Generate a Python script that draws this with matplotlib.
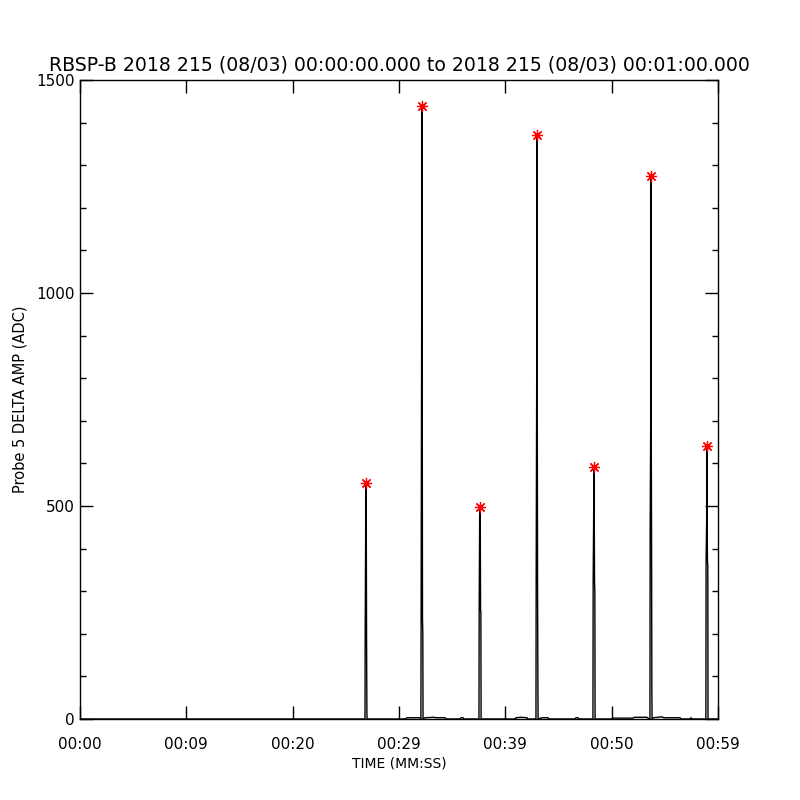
import matplotlib
matplotlib.use("Agg")
import matplotlib.pyplot as plt
from matplotlib.ticker import MultipleLocator, FixedLocator
import numpy as np

# ---- data (seconds after 00:00:00, ADC) ----
peak_times  = [26.90, 32.16, 37.62, 42.98, 48.34, 53.70, 58.96]
peak_values = [555, 1440, 498, 1372, 592, 1275, 642]
mid_values  = [475, 920, 491, 806, 491, 699, 460]     # top of the dense part of each burst
left_leg    = [195, 233, 256, 327, 322, 440, 371]     # first sample of each burst
right_leg   = [14, 202, 250, 96, 300, 61, 360]        # last non-zero sample of each burst

noise_times  = [30.56, 30.75, 31.97, 32.44, 33.29, 33.48, 34.33, 34.42,
                35.74, 35.83, 36.02, 36.11, 40.91, 41.00, 41.47, 42.04, 42.13,
                43.45, 44.01, 44.11, 46.55, 46.64, 46.83, 46.93,
                50.03, 50.13, 52.01, 52.10, 53.32, 53.42, 53.89, 54.73, 54.92,
                56.43, 56.52, 57.37, 57.46, 57.56]
noise_values = [0, 3, 3, 3, 4, 3, 3, 0,
                0, 3, 3, 0, 0, 3, 4, 3, 0,
                3, 3, 0, 0, 3, 3, 0,
                0, 2, 2, 4, 4, 2, 3, 5, 3,
                3, 0, 0, 3, 0]

xtick_values = [0, 10, 20, 30, 40, 50, 60]
xtick_labels = ["00:00", "00:09", "00:20", "00:29", "00:39", "00:50", "00:59"]
ytick_values = [0, 500, 1000, 1500]

title = "RBSP-B 2018 215 (08/03) 00:00:00.000 to 2018 215 (08/03) 00:01:00.000"

# ---- assemble the sample series ----
pts = [(0.0, 0.0), (26.0, 0.0)]
for t, p, m, l, r in zip(peak_times, peak_values, mid_values, left_leg, right_leg):
    pts += [(t - 0.10, 0), (t - 0.08, l), (t - 0.03, m), (t, p),
            (t + 0.02, m), (t + 0.05, l), (t + 0.08, r), (t + 0.10, 0)]
pts += list(zip(noise_times, noise_values))
pts.append((60.0, 0.0))
pts.sort()
ts = np.array([p[0] for p in pts])
vs = np.array([p[1] for p in pts])

plt.rcParams['font.family'] = ['DejaVu Sans']
fig = plt.figure(figsize=(8, 8), dpi=100)
ax = fig.add_axes([0.1, 0.10125, 0.7975, 0.79875])

ax.plot(ts, vs, color='black', lw=1.0)
ax.plot(peak_times, peak_values, linestyle='none', marker=(8, 2, 0),
        color='red', markersize=8, mew=0.9)

ax.set_xlim(0, 60)
ax.set_ylim(0, 1500)
ax.xaxis.set_major_locator(FixedLocator(xtick_values))
ax.set_xticklabels(xtick_labels)
ax.yaxis.set_major_locator(FixedLocator(ytick_values))
ax.yaxis.set_minor_locator(MultipleLocator(100))

ax.tick_params(axis='both', which='major', direction='in', length=9.4, width=1,
               top=True, right=True, labelsize=11, colors='black')
ax.tick_params(axis='x', which='major', pad=13)
ax.tick_params(axis='y', which='major', pad=4)
ax.tick_params(axis='y', which='minor', direction='in', length=4.3, width=1,
               left=True, right=True)
for s in ax.spines.values():
    s.set_linewidth(1)

ax.set_title(title, fontsize=13.6, pad=7)
ax.set_xlabel("TIME (MM:SS)", fontsize=10, labelpad=3)
ax.set_ylabel("Probe 5 DELTA AMP (ADC)", fontsize=10.5)
ax.yaxis.set_label_coords(-0.082, 0.5)

fig.savefig("out.png", dpi=100, facecolor='white')
